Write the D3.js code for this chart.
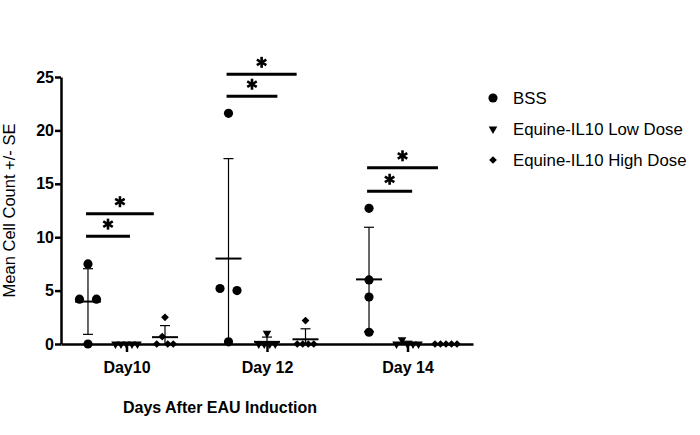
<!DOCTYPE html>
<meta charset="utf-8">
<script src="https://d3js.org/d3.v7.min.js"></script>
<style>
  body { margin: 0; background: #fff; }
  text { font-family: "Liberation Sans", Arial, sans-serif; }
</style>
<div id="my_dataviz"></div>
<script>

// categories and values
const days = ["Day10", "Day 12", "Day 14"];
const series = ["BSS", "Equine-IL10 Low Dose", "Equine-IL10 High Dose"];
const bssValues = [[7.5, 4.2, 4.2, 0], [21.6, 5.2, 5.0, 0.2], [12.7, 6.0, 4.4, 1.1]];
const lowValues = [[0, 0, 0, 0, 0], [1.0, 0, 0, 0, 0], [0, 0.4, 0, 0, 0]];
const highValues = [[2.5, 0, 0.7, 0, 0], [2.2, 0, 0, 0, 0], [0, 0, 0, 0, 0]];
const yTicks = [0, 5, 10, 15, 20, 25];

// significance bars (height in data units, end in series slots: 0 = BSS, 1 = Low, 2 = High)
const sigLowY = [10.1, 23.2, 14.3];
const sigLowEnd = [1.09, 1.27, 1.12];
const sigHighY = [12.2, 25.25, 16.5];
const sigHighEnd = [1.71, 1.77, 1.79];

const margin = {top: 77, right: 227, bottom: 91, left: 61},
  width = 700 - margin.left - margin.right,
  height = 435 - margin.top - margin.bottom;

const svg = d3.select("#my_dataviz")
  .append("svg")
    .attr("width", 700)
    .attr("height", 435)
  .append("g")
    .attr("transform", `translate(${margin.left},${margin.top})`);

// scales
const x = d3.scalePoint()
  .domain(days)
  .range([0, width])
  .padding(0.466);
const half = x.step() * 0.274;
const xs = d3.scalePoint()
  .domain(series)
  .range([-half, half]);
const slot = d3.scaleLinear().domain([0, 2]).range([-half, half]);
const y = d3.scaleLinear()
  .domain([0, 25])
  .range([height, 0]);

const shapes = {
  "BSS": {sym: d3.symbolCircle, size: 66, rot: 0, spacing: 17, thr: 9},
  "Equine-IL10 Low Dose": {sym: d3.symbolTriangle, size: 32, rot: 180, spacing: 5.5, thr: 6},
  "Equine-IL10 High Dose": {sym: d3.symbolSquare, size: 30, rot: 45, spacing: 5.5, thr: 8}
};
const valuesBySeries = [bssValues, lowValues, highValues];

// x axis
const xAxis = svg.append("g")
  .attr("transform", `translate(0,${height})`)
  .call(d3.axisBottom(x).tickSize(8).tickSizeOuter(0).tickPadding(10));
xAxis.selectAll("text")
  .style("font-size", "16px")
  .style("font-weight", "bold")
  .attr("fill", "#000");

// y axis
const yAxis = svg.append("g")
  .call(d3.axisLeft(y).tickValues(yTicks).tickSize(6).tickSizeOuter(0).tickPadding(1));
yAxis.selectAll("text")
  .style("font-size", "16px")
  .style("font-weight", "bold")
  .attr("fill", "#000");

svg.selectAll(".domain, .tick line")
  .attr("stroke", "#000")
  .attr("stroke-width", 2.5);

// points, means and SD bars
series.forEach(function(s, si) {
  const sh = shapes[s];
  days.forEach(function(d, di) {
    const vals = valuesBySeries[si][di];
    const cx = x(d) + xs(s);

    // spread points that sit on top of each other
    const clusters = [];
    vals.forEach(function(v) {
      const py = y(v);
      let c = clusters.find(c => c.some(p => Math.abs(p - py) < sh.thr));
      if (!c) { c = []; clusters.push(c); }
      c.push(py);
    });
    const pts = [];
    clusters.forEach(function(c) {
      c.forEach(function(py, i) {
        pts.push({x: cx + (i - (c.length - 1) / 2) * sh.spacing, y: py});
      });
    });

    const m = d3.mean(vals);
    const sd = d3.deviation(vals);
    const hi = m + sd, lo = Math.max(0, m - sd);

    const g = svg.append("g");
    g.append("line")
      .attr("x1", cx).attr("x2", cx)
      .attr("y1", y(hi)).attr("y2", y(lo))
      .attr("stroke", "#000").attr("stroke-width", 1.2);
    g.append("line")
      .attr("x1", cx - 5).attr("x2", cx + 5)
      .attr("y1", y(hi)).attr("y2", y(hi))
      .attr("stroke", "#000").attr("stroke-width", 1.2);
    if (lo > 0) {
      g.append("line")
        .attr("x1", cx - 5).attr("x2", cx + 5)
        .attr("y1", y(lo)).attr("y2", y(lo))
        .attr("stroke", "#000").attr("stroke-width", 1.2);
    }

    g.selectAll("path")
      .data(pts)
      .join("path")
        .attr("d", d3.symbol().type(sh.sym).size(sh.size))
        .attr("transform", p => `translate(${p.x},${p.y}) rotate(${sh.rot})`)
        .attr("fill", "#000");

    g.append("line")
      .attr("x1", cx - 13).attr("x2", cx + 13)
      .attr("y1", y(m)).attr("y2", y(m))
      .attr("stroke", "#000").attr("stroke-width", 2);
  });
});

// significance bars with asterisks
function asterisk(cx, cy) {
  const r = 5.5;
  const g = svg.append("g").attr("transform", `translate(${cx},${cy})`);
  [90, 30, -30].forEach(function(a) {
    const t = a * Math.PI / 180;
    g.append("line")
      .attr("x1", -r * Math.cos(t)).attr("y1", -r * Math.sin(t))
      .attr("x2", r * Math.cos(t)).attr("y2", r * Math.sin(t))
      .attr("stroke", "#000").attr("stroke-width", 2.6);
  });
}
days.forEach(function(d, di) {
  [[sigLowY[di], sigLowEnd[di]], [sigHighY[di], sigHighEnd[di]]].forEach(function(b) {
    const x1 = x(d) + slot(-0.05), x2 = x(d) + slot(b[1]);
    svg.append("line")
      .attr("x1", x1).attr("x2", x2)
      .attr("y1", y(b[0])).attr("y2", y(b[0]))
      .attr("stroke", "#000").attr("stroke-width", 3);
    asterisk((x1 + x2) / 2, y(b[0]) - 12);
  });
});

// axis titles
svg.append("text")
  .attr("transform", `translate(-46,${height / 2}) rotate(-90)`)
  .attr("text-anchor", "middle")
  .style("font-size", "16.5px")
  .text("Mean Cell Count +/- SE");

svg.append("text")
  .attr("x", 159)
  .attr("y", height + 69)
  .attr("text-anchor", "middle")
  .style("font-size", "16px")
  .style("font-weight", "bold")
  .text("Days After EAU Induction");

// legend
const legend = svg.append("g")
  .attr("transform", `translate(${width + 20},21)`);
series.forEach(function(s, i) {
  const sh = shapes[s];
  const row = legend.append("g").attr("transform", `translate(0,${i * 31})`);
  row.append("path")
    .attr("d", d3.symbol().type(sh.sym).size(sh.size))
    .attr("transform", `rotate(${sh.rot})`)
    .attr("fill", "#000");
  row.append("text")
    .attr("x", 20)
    .attr("y", 6)
    .style("font-size", "16.8px")
    .text(s);
});
</script>
